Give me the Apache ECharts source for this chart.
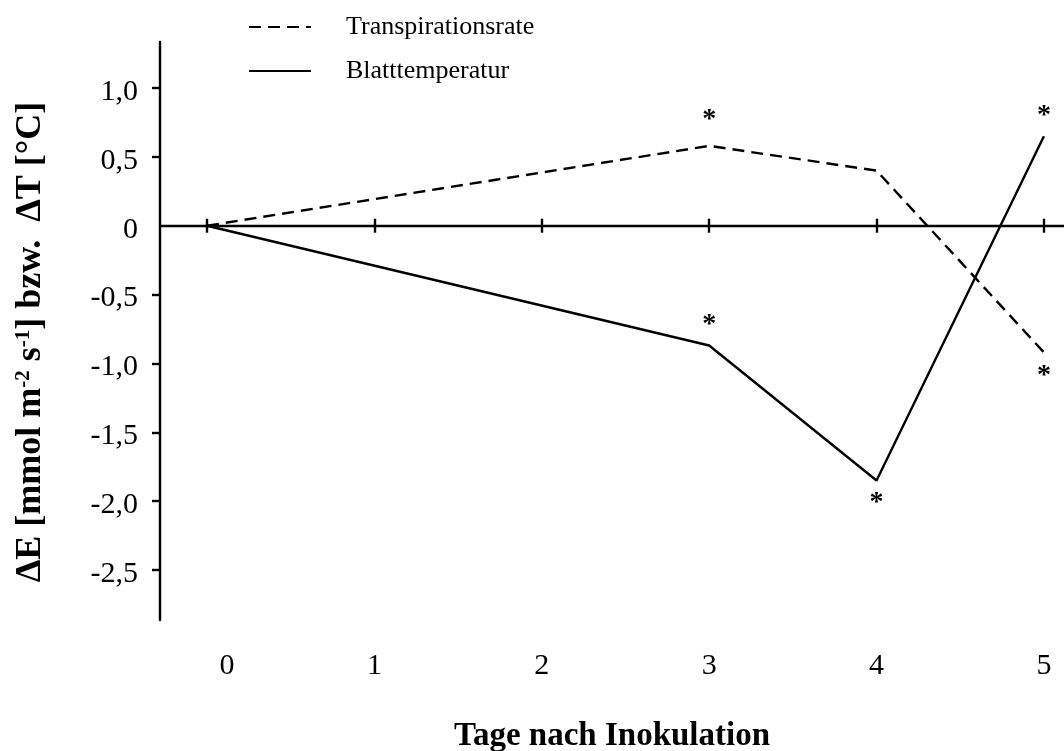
<!DOCTYPE html>
<html>
<head>
<meta charset="utf-8">
<script src="https://cdn.jsdelivr.net/npm/echarts@6/dist/echarts.min.js"></script>
<style>
  html, body { margin: 0; padding: 0; background: #fff; }
  #chart { width: 1064px; height: 751px; }
</style>
</head>
<body>
<div id="chart"></div>
<script>
// Days after inoculation and the measured differences
const days = [0, 3, 4, 5];
const transpiration = [0, 0.58, 0.40, -0.92];     // ΔE [mmol m-2 s-1]
const leafTemperature = [0, -0.87, -1.85, 0.65];  // ΔT [°C]

// Significance marks: where a "*" is drawn and on which side of the point
const transpirationSig = [null, 'top', null, 'bottom'];
const leafTemperatureSig = [null, 'top', 'bottom', 'top'];

// Axis ticks and labels
const xTickValues = [0, 1, 2, 3, 4, 5];
const xTickLabels = ['0', '1', '2', '3', '4', '5'];
const yTickValues = [1.0, 0.5, 0, -0.5, -1.0, -1.5, -2.0, -2.5];
const yTickLabels = ['1,0', '0,5', '0', '-0,5', '-1,0', '-1,5', '-2,0', '-2,5'];

const seriesNames = ['Transpirationsrate', 'Blatttemperatur'];

const FONT = '"Liberation Serif", "Times New Roman", serif';
const X_MIN = -0.281, X_MAX = 5.12;
const Y_MIN = -2.863, Y_MAX = 1.334;
const GRID_TOP = 42, GRID_BOTTOM = 131, CHART_H = 751;
const LINE_W = 2.4;
// distance from the top of the plot area down to the zero line
const ZERO_FROM_TOP = (CHART_H - GRID_TOP - GRID_BOTTOM) * Y_MAX / (Y_MAX - Y_MIN);

function pointsWithStars(values, sig, topDistance, bottomDistance) {
  return values.map((v, i) => {
    const item = { value: [days[i], v] };
    if (sig[i]) {
      item.label = {
        show: true,
        formatter: '*',
        position: sig[i],
        distance: sig[i] === 'top' ? topDistance : bottomDistance,
        color: '#000',
        fontFamily: FONT,
        fontWeight: 'bold',
        fontSize: 28
      };
    }
    return item;
  });
}

const tickStyle = { color: '#000', width: LINE_W };

const chart = echarts.init(document.getElementById('chart'), null, { renderer: 'canvas' });

chart.setOption({
  animation: false,
  backgroundColor: '#fff',
  grid: { left: 160, right: 0, top: GRID_TOP, bottom: GRID_BOTTOM, containLabel: false, outerBoundsMode: 'none' },
  legend: {
    orient: 'vertical',
    left: 243,
    top: 9,
    itemWidth: 62,
    itemHeight: 14,
    itemGap: 18,
    data: seriesNames,
    itemStyle: { opacity: 0 },
    textStyle: {
      fontFamily: FONT,
      fontSize: 26,
      color: '#000',
      padding: [0, 0, 0, 30]
    }
  },
  xAxis: [
    {
      // zero line with ticks pointing down
      type: 'value',
      min: X_MIN,
      max: X_MAX,
      axisLine: { show: true, onZero: true, lineStyle: { color: '#000', width: LINE_W } },
      axisTick: { show: true, inside: false, length: 7, customValues: xTickValues, lineStyle: tickStyle },
      axisLabel: { show: false },
      splitLine: { show: false }
    },
    {
      // upper half of the ticks crossing the zero line
      type: 'value',
      min: X_MIN,
      max: X_MAX,
      position: 'top',
      offset: -ZERO_FROM_TOP,
      axisLine: { show: false, onZero: false },
      axisTick: { show: true, inside: false, length: 7, customValues: xTickValues, lineStyle: tickStyle },
      axisLabel: { show: false },
      splitLine: { show: false }
    },
    {
      // day labels and axis title below the plot
      type: 'value',
      min: X_MIN,
      max: X_MAX,
      position: 'bottom',
      axisLine: { show: false, onZero: false },
      axisTick: { show: false },
      splitLine: { show: false },
      axisLabel: {
        customValues: xTickValues,
        margin: 31,
        color: '#000',
        fontFamily: FONT,
        fontSize: 30,
        formatter: v => {
          const t = xTickLabels[xTickValues.indexOf(v)];
          return v === 0 ? '{z|' + t + '}' : t;
        },
        rich: { z: { fontFamily: FONT, fontSize: 30, color: '#000', padding: [0, 0, 0, 40] } }
      },
      name: 'Tage nach Inokulation',
      nameLocation: 'middle',
      nameGap: 100,
      nameTextStyle: { fontFamily: FONT, fontSize: 33, fontWeight: 'bold', color: '#000' }
    }
  ],
  yAxis: {
    type: 'value',
    min: Y_MIN,
    max: Y_MAX,
    axisLine: { show: true, onZero: false, lineStyle: { color: '#000', width: LINE_W } },
    axisTick: { show: true, inside: false, length: 8, customValues: yTickValues.filter(v => v !== 0), lineStyle: tickStyle },
    splitLine: { show: false },
    axisLabel: {
      customValues: yTickValues,
      margin: 22,
      color: '#000',
      fontFamily: FONT,
      fontSize: 30,
      formatter: v => '{t|' + yTickLabels[yTickValues.indexOf(v)] + '}',
      rich: { t: { fontFamily: FONT, fontSize: 30, color: '#000', padding: [8, 0, 0, 0] } }
    },
    name: 'ΔE [mmol m{sup|-2} s{sup|-1}] bzw.  ΔT [°C]',
    nameLocation: 'middle',
    nameRotate: 90,
    nameGap: 111,
    nameTextStyle: {
      fontFamily: FONT,
      fontSize: 36,
      fontWeight: 'bold',
      color: '#000',
      padding: [0, 22, 0, 0],
      rich: {
        sup: { fontFamily: FONT, fontSize: 21, fontWeight: 'bold', color: '#000', verticalAlign: 'top', lineHeight: 36 }
      }
    }
  },
  series: [
    {
      name: seriesNames[0],
      type: 'line',
      xAxisIndex: 0,
      data: pointsWithStars(transpiration, transpirationSig, 12, 9),
      symbol: 'circle',
      symbolSize: 1,
      showSymbol: true,
      lineStyle: { color: '#000', width: LINE_W, type: [12, 7] },
      itemStyle: { color: 'rgba(0,0,0,0)' },
      z: 3
    },
    {
      name: seriesNames[1],
      type: 'line',
      xAxisIndex: 0,
      data: pointsWithStars(leafTemperature, leafTemperatureSig, 6, 8),
      symbol: 'circle',
      symbolSize: 1,
      showSymbol: true,
      lineStyle: { color: '#000', width: LINE_W, type: 'solid' },
      itemStyle: { color: 'rgba(0,0,0,0)' },
      z: 3
    }
  ]
});
</script>
</body>
</html>
